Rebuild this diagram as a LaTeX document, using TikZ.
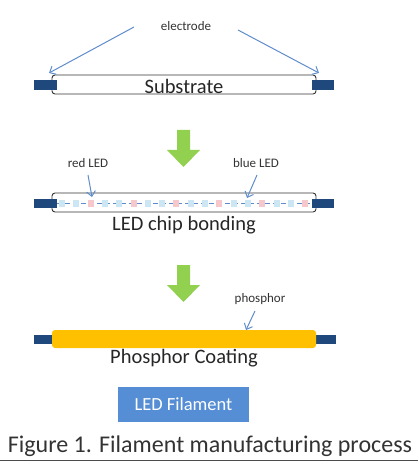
\documentclass[tikz,border=0pt]{standalone}
\usepackage{fontspec}
\setmainfont{Carlito}
\usetikzlibrary{calc}
\usetikzlibrary{arrows.meta}
\usetikzlibrary{positioning}
\definecolor{electrodeblue}{RGB}{31,73,125}
\definecolor{arrowgreen}{RGB}{146,208,80}
\definecolor{pointerblue}{RGB}{95,140,205}
\definecolor{phosphoryellow}{RGB}{255,192,0}
\definecolor{chipred}{RGB}{246,200,204}
\definecolor{chipblue}{RGB}{205,230,243}
\definecolor{boxblue}{RGB}{85,142,213}

\tikzset{
	tube/.style={draw=black!80, line width=0.9pt, rounded corners=3pt, fill=white},
	electrode/.style={fill=electrodeblue},
	pointer/.style={pointerblue, line width=1pt, -{Straight Barb[length=5pt,width=9pt]}},
	steplabel/.style={inner sep=0pt, font=\fontsize{20.5}{24}\selectfont, text=black!85},
	smalllabel/.style={inner sep=0pt, font=\fontsize{13}{15}\selectfont, text=black!80},
}

\begin{document}
\begin{tikzpicture}[x=1pt, y=-1pt]
		\useasboundingbox (0,0) rectangle (418,465);

		% green step arrows
		\foreach \y in {130,265}
			\fill[arrowgreen] (177,\y) -- ++(13,0) -- ++(0,20) -- ++(10,0) -- ++(-16.5,17) -- ++(-16.5,-17) -- ++(10,0) -- cycle;

		% substrate
		\draw[tube] (52,75) rectangle (316,94);
		\fill[electrode] (34,80) rectangle (57,90);
		\fill[electrode] (312,80) rectangle (334,90);
		\node[steplabel] (substrate) at (184,86) {Substrate};
		\node[smalllabel] (electrode) at (186,26) {electrode};
		\coordinate (elA) at (134,27);
		\coordinate (elB) at (238,30);
		\coordinate (leftend) at (49,73);
		\coordinate (rightend) at (319,73);
		\draw[pointer] (elA) -- (leftend);
		\draw[pointer] (elB) -- (rightend);

		% chip bonding
		\draw[tube] (52,193) rectangle (316,212);
		\draw[pointerblue, dash pattern=on 5pt off 3pt, line width=0.8pt] (57,203) -- (312,203);
		\foreach \i in {0,...,17} {
			\pgfmathtruncatemacro{\k}{mod(\i,3)}
			\ifnum\k=2
				\fill[chipred] ($(62,203)+(14.3*\i,0)$) ++(-3,-3.5) rectangle ++(6,7);
			\else
				\fill[chipblue] ($(62,203)+(14.3*\i,0)$) ++(-3,-3.5) rectangle ++(6,7);
			\fi
		}
		\fill[electrode] (34,199) rectangle (57,208);
		\fill[electrode] (312,199) rectangle (334,208);
		\node[smalllabel] (redled) at (88,163) {red LED};
		\node[smalllabel] (blueled) at (256,163) {blue LED};
		\coordinate (redA) at (88,175);
		\coordinate (redchip) at (92,197);
		\coordinate (blueA) at (257,175);
		\coordinate (bluechip) at (247,198);
		\draw[pointer] (redA) -- (redchip);
		\draw[pointer] (blueA) -- (bluechip);
		\node[steplabel] (bonding) at (184,225) {LED chip bonding};

		% phosphor coating
		\fill[electrode] (34,335) rectangle (54,344);
		\fill[electrode] (314,335) rectangle (336,344);
		\fill[phosphoryellow, rounded corners=3pt] (52,330) rectangle (316,348);
		\node[smalllabel] (phosphor) at (260,299) {phosphor};
		\coordinate (phA) at (255,311);
		\coordinate (coat) at (246,330);
		\draw[pointer] (phA) -- (coat);
		\node[steplabel] (coating) at (184,358) {Phosphor Coating};

		% result and caption
		\node[fill=boxblue, minimum width=131pt, minimum height=35pt, inner sep=0pt,
			text=white, font=\fontsize{18.5}{22}\selectfont] (filament) at (183.5,404.5) {LED Filament};
		\node[inner sep=0pt, text=black!80, font=\fontsize{24}{28}\selectfont] (caption) at (210,446) {Figure 1. Filament manufacturing process};
		\draw[black!70, line width=1pt] (0,460) -- (418,460);
	\end{tikzpicture}
\end{document}
